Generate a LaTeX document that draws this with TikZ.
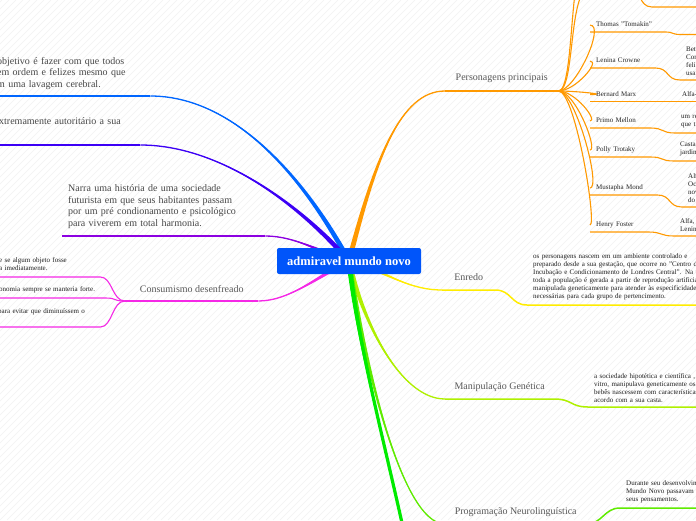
\documentclass[tikz,border=0pt]{standalone}
\usepackage{fontspec}
\setmainfont{Liberation Serif}
\usetikzlibrary{
  calc % Für Koordinatenberechnungen
}

% Farben
\definecolor{rootblue}{RGB}{0,85,250}
\definecolor{cBlue}{RGB}{0,102,255}
\definecolor{cIndigo}{RGB}{60,0,245}
\definecolor{cPurple}{RGB}{140,0,225}
\definecolor{cMagenta}{RGB}{245,40,230}
\definecolor{cOrange}{RGB}{255,153,0}
\definecolor{cYellow}{RGB}{255,236,0}
\definecolor{cLime}{RGB}{175,240,0}
\definecolor{cProg}{RGB}{95,235,0}
\definecolor{cGreen}{RGB}{0,235,0}

\pgfdeclarelayer{stripes}
\pgfdeclarelayer{lines}
\pgfsetlayers{stripes,lines,main}

% Ast mit Verjüngung: [Endbreite]{Farbe}{Start}{K1}{K2}{Ende}
\newcommand{\branch}[6][1.3pt]{%
  \fill[#2] ($(#3)!2.6pt!90:(#4)$) .. controls ($(#4)!1.5pt!90:(#5)$) and (#5) .. (#6)
    .. controls (#5) and ($(#4)!1.5pt!-90:(#5)$) .. ($(#3)!2.6pt!-90:(#4)$) -- cycle;
  \draw[#2, line width=#1] (#3) .. controls (#4) and (#5) .. (#6);}

\begin{document}
\begin{tikzpicture}[
    x=1pt, y=-1pt, % Pixelraster, y nach unten
    rootbox/.style={fill=rootblue, rounded corners=2pt, text=white, inner sep=0pt,
      minimum width=144pt, minimum height=26pt, font=\bfseries\fontsize{12.5}{14}\selectfont},
    topic/.style={anchor=south west, text=black!65, inner xsep=0pt, inner ysep=7.5pt,
      text height=7pt, text depth=2pt, font=\fontsize{10}{11.8}\selectfont},
    note/.style={anchor=south west, text=black!72, align=left, inner ysep=6pt,
      font=\fontsize{10}{11.8}\selectfont},
    person/.style={anchor=south west, text=black!85, align=left, text width=#1,
      inner xsep=6pt, inner ysep=3.5pt, text height=5pt, text depth=1.5pt,
      font=\fontsize{7}{8}\selectfont},
    leaf/.style={anchor=south west, text=black!88, align=left, inner xsep=6pt,
      inner ysep=4.5pt, font=\fontsize{7}{8}\selectfont},
    under/.style={line width=1.5pt},
    sub/.style={line width=1.1pt},
  ]

  \useasboundingbox (0,0) rectangle (696,520);
  \clip (0,0) rectangle (696,520);

  % Hintergrund
  \begin{pgfonlayer}{stripes}
    \fill[white] (0,0) rectangle (696,520);
    \foreach \s in {-525,-518,...,696}
      \draw[black!5, line width=0.5pt] (\s,520) -- ++(520,-520);
  \end{pgfonlayer}

  % Wurzel
  \node[rootbox] (root) at (349,261) {admiravel mundo novo};

  % linke Seite
  \node[note, text width=146pt, inner xsep=7pt] (obj) at (-10,96)
    {objetivo é fazer com que todos\\em ordem e felizes mesmo que\\m uma lavagem cerebral.};
  \node[note, text width=132pt, inner xsep=9pt, inner ysep=20pt] (aut) at (-10,145)
    {xtremamente autoritário a sua};
  \node[note, text width=191pt, inner xsep=6pt, inner ysep=7pt] (narra) at (62,236)
    {Narra uma história de uma sociedade\\futurista em que seus habitantes passam\\por um pré condionamento e psicológico\\para viverem em total harmonia.};
  \node[topic, minimum width=133pt, inner ysep=6pt] (cons) at (125,301) {Consumismo desenfreado};
  \node[leaf, text width=92pt, inner xsep=9pt, inner ysep=6pt] (kauf) at (-10,277)
    {e se algum objeto fosse\\a imediatamente.};
  \node[leaf, text width=97pt, inner xsep=9pt] (wirt) at (-10,298)
    {onomia sempre se manteria forte.};
  \node[leaf, text width=94pt, inner xsep=8pt, inner ysep=12pt] (spar) at (-10,327)
    {para evitar que diminuíssem o};

  % rechte Seite
  \node[topic, minimum width=113pt, inner ysep=8pt] (pers) at (445,91) {Personagens principais};
  \node[topic, minimum width=53pt] (enredo) at (442,290) {Enredo};
  \node[topic, minimum width=109pt] (manip) at (445,399) {Manipulação Genética};
  \node[topic, minimum width=141pt] (prog) at (445,524) {Programação Neurolinguística};

  % Personagens
  \node[person=63pt] (thomas) at (590,32) {Thomas "Tomakin"};
  \node[person=53pt] (lenina) at (590,68) {Lenina Crowne};
  \node[person=74pt] (bernard) at (590,101.5) {Bernard Marx};
  \node[person=48pt] (primo) at (590,128) {Primo Mellon};
  \node[person=48pt] (polly) at (590,157) {Polly Trotaky};
  \node[person=55pt] (mustapha) at (590,195) {Mustapha Mond};
  \node[person=46pt] (henry) at (590,232) {Henry Foster};

  \node[leaf, text width=60pt] (lenina-t) at (680,80) {Beta\\Con\\feli\\usan};
  \node[leaf, text width=60pt] (bernard-t) at (676,101.5) {Alfa-mais};
  \node[leaf, text width=60pt] (primo-t) at (675,133) {um re\\que t};
  \node[leaf, text width=60pt] (polly-t) at (674,161) {Casta\\jardim};
  \node[leaf, text width=60pt] (mustapha-t) at (682,207) {Alfa\\Oci\\nov\\do};
  \node[leaf, text width=60pt] (henry-t) at (674,236) {Alfa, a\\Lenina};

  % Blätter rechts
  \node[leaf, text width=230pt] (enredo-t) at (527,305)
    {os personagens nascem em um ambiente controlado e\\preparado desde a sua gestação, que ocorre no "Centro de\\Incubação e Condicionamento de Londres Central". Na trama,\\toda a população é gerada a partir de reprodução artificial\\manipulada geneticamente para atender às especificidades\\necessárias para cada grupo de pertencimento.};
  \node[leaf, text width=160pt] (manip-t) at (588,407)
    {a sociedade hipotética e científica , a partir\\vitro, manipulava geneticamente os embriões\\bebês nascessem com características de\\acordo com a sua casta.};
  \node[leaf, text width=160pt] (prog-t) at (620,508)
    {Durante seu desenvolvimento\\Mundo Novo passavam por\\seus pensamentos.};

  % Punkte ausserhalb
  \coordinate (top1) at (590,-12);
  \coordinate (top1-e) at (628,-12);
  \coordinate (top1-c) at (652,7);
  \coordinate (top1-r) at (720,7);
  \coordinate (top2) at (590,-50);
  \coordinate (thomas-c) at (680,34.5);
  \coordinate (thomas-r) at (720,34.5);
  \coordinate (gruen) at (412,570);

  \begin{pgfonlayer}{lines}
    \begin{scope}
    \clip (0,0) rectangle (696,520);

    % Hauptäste
    \branch{cBlue}{root.center}{300,170}{230,96}{obj.south east}
    \branch{cIndigo}{root.center}{300,205}{220,145}{aut.south east}
    \branch{cPurple}{root.center}{320,252}{295,236}{narra.south east}
    \branch{cMagenta}{root.center}{320,275}{290,301}{cons.south east}
    \branch{cOrange}{root.center}{375,160}{400,91}{pers.south west}
    \branch{cYellow}{root.center}{380,268}{405,290}{enredo.south west}
    \branch{cLime}{root.center}{362,320}{400,399}{manip.south west}
    \branch{cProg}{root.center}{362,350}{400,524}{prog.south west}
    \branch[3.2pt]{cGreen}{root.center}{358,350}{392,470}{gruen}

    % Unterstreichungen
    \draw[under, cBlue] (obj.south east) -- (obj.south west);
    \draw[under, cIndigo] (aut.south east) -- (aut.south west);
    \draw[under, cPurple] (narra.south east) -- (narra.south west);
    \draw[under, cMagenta] (cons.south east) -- (cons.south west);
    \draw[under, cOrange] (pers.south west) -- (pers.south east);

    % Konsumismus
    \foreach \n in {kauf,wirt,spar}
      \draw[sub, cMagenta] (cons.south west) .. controls +(-13,0) and +(12,0) .. (\n.south east) -- (\n.south west);

    % Personagens
    \foreach \n in {top1,top2,thomas,lenina,bernard,primo,polly,mustapha,henry}
      \draw[sub, cOrange] (pers.south east) .. controls +(17,0) and +(-22,0) .. (\n);
    \draw[sub, cOrange] (top1) -- (top1-e) .. controls +(14,0) and +(-14,0) .. (top1-c) -- (top1-r);
    \draw[sub, cOrange] (thomas.south west) -- (thomas.south east)
      .. controls +(8,0) and +(-8,0) .. (thomas-c) -- (thomas-r);
    \foreach \n in {lenina,bernard,primo,polly,mustapha,henry}
      \draw[sub, cOrange] (\n.south west) -- (\n.south east)
        .. controls +(14,0) and +(-14,0) .. (\n-t.south west) -- (\n-t.south east);

    % Blätter
    \draw[under, cYellow] (enredo.south west) -- (enredo.south east)
      .. controls +(16,0) and +(-16,0) .. (enredo-t.south west) -- (enredo-t.south east);
    \draw[under, cLime] (manip.south west) -- (manip.south east)
      .. controls +(18,0) and +(-18,0) .. (manip-t.south west) -- (manip-t.south east);
    \draw[under, cProg] (prog.south west) -- (prog.south east)
      .. controls +(16,0) and +(-16,0) .. (prog-t.south west) -- (prog-t.south east);
    \end{scope}
  \end{pgfonlayer}
\end{tikzpicture}
\end{document}
